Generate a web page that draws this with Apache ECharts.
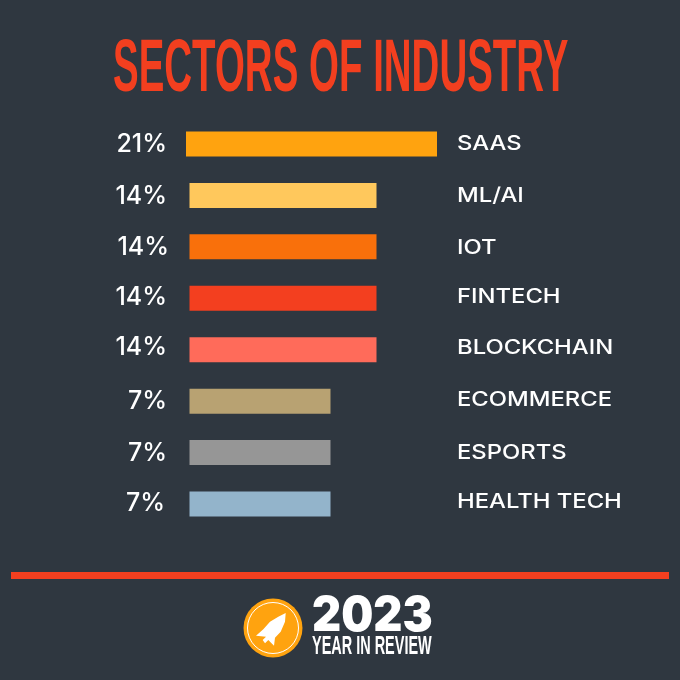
<!DOCTYPE html>
<html><head><meta charset="utf-8">
<style>html,body{margin:0;padding:0;background:#2f3740}#c{width:680px;height:680px}</style>
<script src="https://cdn.jsdelivr.net/npm/echarts@6/dist/echarts.min.js"></script></head>
<body><div id="c"></div>
<script>
const categories=['SAAS','ML/AI','IOT','FINTECH','BLOCKCHAIN','ECOMMERCE','ESPORTS','HEALTH TECH'];
const shareLabels=['21%','14%','14%','14%','14%','7%','7%','7%'];
const barStart=[0,3.5,3.5,3.5,3.5,3.5,3.5,3.5];
const barLength=[251,187,187,187,187,141,141,141];
const colors=['#FFA30F','#FFC85C','#F9700B','#F33F1F','#FF6B5A','#B8A272','#969696','#93B4CB'];
const pctNudge=[[1,0],[1,1],[3,1],[1,-1],[1,-2],[1,0],[1,1],[-1,-1]];
const catNudge=[0,1,1,-1,-2,-1,0,-2];
const chart=echarts.init(document.getElementById('c'),null,{renderer:'canvas'});
const sansFont='"Inter","Open Sans",sans-serif';
chart.setOption({
  animation:false,backgroundColor:'#2f3740',
  grid:{left:186,width:251,top:118.3,height:411.4},
  xAxis:{type:'value',min:0,max:251,show:false},
  yAxis:{type:'category',inverse:true,data:categories,show:false},
  series:[
    {type:'bar',stack:'s',data:barStart,barWidth:25,itemStyle:{color:'transparent'},silent:true},
    {type:'bar',stack:'s',barWidth:25,
     data:barLength.map((v,i)=>({value:v,itemStyle:{color:colors[i]}}))},
    {type:'custom',data:categories.map((c,i)=>[0,i]),encode:{x:0,y:1},
     renderItem:(p,api)=>{
       const i=p.dataIndex,pt=api.coord([0,i]);
       return {type:'group',children:[
         {type:'text',x:pt[0]-20+pctNudge[i][0],y:pt[1]+pctNudge[i][1],
          style:{text:shareLabels[i],fill:'#fff',font:'500 25px '+sansFont,align:'right',verticalAlign:'middle'}},
         {type:'text',x:pt[0]+271,y:pt[1]+catNudge[i],scaleX:1.19,
          style:{text:categories[i],fill:'#fff',font:'500 20px '+sansFont,align:'left',verticalAlign:'middle'}}
       ]};
     }}
  ],
  graphic:[
    {type:'text',x:113,y:71,scaleX:0.52,style:{text:'SECTORS OF INDUSTRY',fill:'#F33F1F',font:'bold 74px "Liberation Sans",sans-serif',verticalAlign:'middle'}},
    {type:'rect',shape:{x:11,y:572,width:658,height:7},style:{fill:'#F33F1F'}},
    {type:'circle',shape:{cx:273,cy:628,r:29.5},style:{fill:'#FFA30F'}},
    {type:'circle',shape:{cx:273,cy:628,r:25.5},style:{fill:'none',stroke:'#fff',lineWidth:1}},
    {type:'polygon',shape:{points:[[285.7,613],[285,621.7],[280.7,631.7],[275,637.7],[274,645.7],[268.3,640],[265,643.3],[262.7,640],[266,636.7],[256,635.7],[263.3,629.3],[270,621.7],[278.3,616.7]]},style:{fill:'#fff'}},
    {type:'text',x:312,y:617,scaleX:0.94,style:{text:'2023',fill:'#fff',font:'900 48px '+sansFont,verticalAlign:'middle'}},
    {type:'text',x:312,y:647,scaleX:0.556,style:{text:'YEAR IN REVIEW',fill:'#fff',font:'bold 26px "Liberation Sans",sans-serif',verticalAlign:'middle'}}
  ]
});
</script></body></html>
